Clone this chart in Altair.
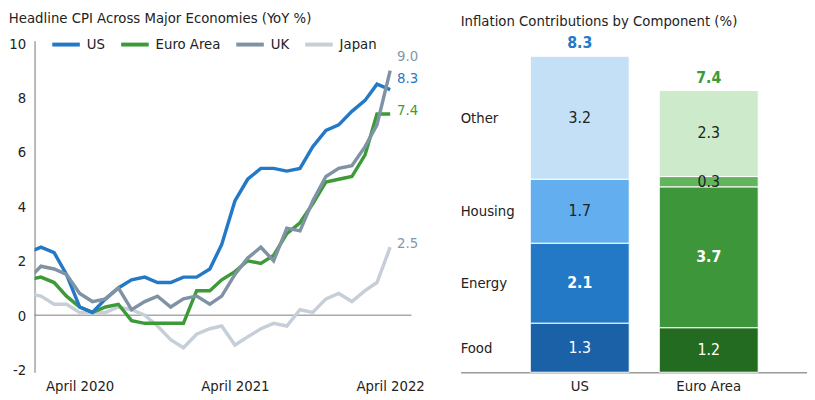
import altair as alt
import pandas as pd

FONT = "DejaVu Sans Condensed, Liberation Sans Narrow, DejaVu Sans, sans-serif"

# ---------------- data: headline CPI, YoY % (Dec 2019 .. Apr 2022) ----------------
months = [d.strftime("%Y-%m-%dT00:00:00") for d in pd.date_range("2019-12-01", periods=29, freq="MS")]
us_cpi = [2.3, 2.5, 2.3, 1.5, 0.3, 0.1, 0.6, 1.0, 1.3, 1.4, 1.2, 1.2, 1.4,
          1.4, 1.7, 2.6, 4.2, 5.0, 5.4, 5.4, 5.3, 5.4, 6.2, 6.8, 7.0,
          7.5, 7.9, 8.5, 8.3]
euro_cpi = [1.3, 1.4, 1.2, 0.7, 0.3, 0.1, 0.3, 0.4, -0.2, -0.3, -0.3, -0.3, -0.3,
            0.9, 0.9, 1.3, 1.6, 2.0, 1.9, 2.2, 3.0, 3.4, 4.1, 4.9, 5.0,
            5.1, 5.9, 7.4, 7.4]
uk_cpi = [1.3, 1.8, 1.7, 1.5, 0.8, 0.5, 0.6, 1.0, 0.2, 0.5, 0.7, 0.3, 0.6,
          0.7, 0.4, 0.7, 1.5, 2.1, 2.5, 2.0, 3.2, 3.1, 4.2, 5.1, 5.4,
          5.5, 6.2, 7.0, 9.0]
japan_cpi = [0.8, 0.7, 0.4, 0.4, 0.1, 0.1, 0.1, 0.3, 0.2, 0.0, -0.4, -0.9, -1.2,
             -0.7, -0.5, -0.4, -1.1, -0.8, -0.5, -0.3, -0.4, 0.2, 0.1, 0.6, 0.8,
             0.5, 0.9, 1.2, 2.5]
series_names = ["US", "Euro Area", "UK", "Japan"]
y_ticks = [-2, 0, 2, 4, 6, 8, 10]
tick_years = [2020, 2021, 2022]

# ---------------- data: contributions by component (%) ----------------
countries = ["US", "Euro Area"]
components = ["Food", "Energy", "Housing", "Other"]
us_contrib = [1.29, 2.10, 1.68, 3.23]
euro_contrib = [1.17, 3.70, 0.27, 2.26]

# ---------------- styles ----------------
line_colors = ["#2479c7", "#3d9a38", "#7f93a5", "#c6cfd8"]
end_label_colors = {"US": "#2479c7", "Euro Area": "#3d9a38", "UK": "#8497aa", "Japan": "#8497aa"}
end_label_dy = {"US": -12, "Euro Area": -4, "UK": -15, "Japan": -4}
draw_order = ["Japan", "Euro Area", "US", "UK"]
bar_colors = ["#1a61a8", "#2479c7", "#62aeef", "#c4e0f7",
              "#236b20", "#3e963a", "#63b55d", "#cdeacb"]
TXT = "#222222"

series_values = {"US": us_cpi, "Euro Area": euro_cpi, "UK": uk_cpi, "Japan": japan_cpi}
rows = []
for name in draw_order:
    for m, v in zip(months, series_values[name]):
        rows.append({"date": m, "series": name, "value": v})
lines_df = pd.DataFrame(rows)
last_df = pd.DataFrame({"date": [months[-1]] * 4,
                        "series": series_names,
                        "value": [series_values[s][-1] for s in series_names]})

x_scale = alt.Scale(domain=[alt.DateTime(year=2019, month=12, date=17),
                            alt.DateTime(year=2022, month=5, date=21)])
y_scale = alt.Scale(domain=[-2.1, 10.1], nice=False)
x_axis = alt.Axis(values=[alt.DateTime(year=y, month=4, date=1) for y in tick_years],
                  format="%B %Y", title=None, grid=False, ticks=False, domain=False,
                  labelPadding=7, labelFontSize=15, labelColor=TXT, labelFlush=False)
y_axis = alt.Axis(values=y_ticks, title=None, grid=False, ticks=False,
                  domainColor="#b8b8b8", domainWidth=2, labelFontSize=15, labelColor=TXT,
                  labelPadding=9,
                  labelExpr="datum.value < 0 ? '-' + abs(datum.value) : '' + datum.value")

zero_rule = alt.Chart(pd.DataFrame({"zero": [0]})).mark_rule(
    color="#7a7a7a", strokeWidth=1).encode(y=alt.Y("zero:Q", scale=y_scale, axis=y_axis))

lines = alt.Chart(lines_df).mark_line(strokeWidth=3.5, clip=True).encode(
    x=alt.X("date:T", scale=x_scale, axis=x_axis),
    y=alt.Y("value:Q", scale=y_scale, axis=y_axis),
    color=alt.Color("series:N", scale=alt.Scale(domain=series_names, range=line_colors),
                    legend=alt.Legend(orient="none", legendX=16, legendY=-12,
                                      direction="horizontal", title=None,
                                      symbolType="stroke", symbolStrokeWidth=4,
                                      symbolSize=784, labelFontSize=15, labelColor=TXT,
                                      columnPadding=8, labelOffset=5)),
)

end_labels = []
for s in series_names:
    end_labels.append(
        alt.Chart(last_df).transform_filter(alt.datum.series == s).mark_text(
            align="left", baseline="middle", dx=7, dy=end_label_dy[s], fontSize=15,
            color=end_label_colors[s]).encode(
            x=alt.X("date:T", scale=x_scale, axis=x_axis),
            y=alt.Y("value:Q", scale=y_scale, axis=y_axis),
            text=alt.Text("value:Q", format=".1f"))
    )

left = alt.layer(zero_rule, lines, *end_labels).properties(
    width=383, height=337,
    title=alt.Title("Headline CPI Across Major Economies (YoY %)", anchor="start",
                    frame="bounds", offset=3, fontSize=15, fontWeight="normal", color=TXT))

# ---------------- right chart ----------------
bar_rows = []
for c, vals in zip(countries, [us_contrib, euro_contrib]):
    for i, (comp, v) in enumerate(zip(components, vals)):
        bar_rows.append({"country": c, "component": comp, "order": i,
                         "value": v, "key": f"{c} {comp}"})
bar_df = pd.DataFrame(bar_rows)
keys = [f"{c} {comp}" for c in countries for comp in components]

x_bar = alt.X("country:N", sort=countries,
              scale=alt.Scale(paddingInner=0.233, paddingOuter=0.459, align=0.588),
              axis=alt.Axis(title=None, labelAngle=0, ticks=False, domainColor="#999999",
                            domainWidth=1.5, labelPadding=7, labelFontSize=15,
                            labelColor=TXT))
y_bar_scale = alt.Scale(domain=[0, 8.71], nice=False)

base = alt.Chart(bar_df).transform_stack(
    stack="value", groupby=["country"], as_=["v0", "v1"],
    sort=[alt.SortField("order", order="ascending")]
).transform_calculate(mid="(datum.v0 + datum.v1) / 2")

bars = base.mark_bar(stroke="white", strokeWidth=1).encode(
    x=x_bar,
    y=alt.Y("v0:Q", scale=y_bar_scale, axis=None),
    y2="v1:Q",
    color=alt.Color("key:N", scale=alt.Scale(domain=keys, range=bar_colors), legend=None))

seg_labels = base.transform_filter("datum.component != 'Energy'").mark_text(
    fontSize=16, baseline="middle").encode(
    x=x_bar,
    y=alt.Y("mid:Q", scale=y_bar_scale, axis=None),
    text=alt.Text("value:Q", format=".1f"),
    color=alt.condition("datum.component == 'Food'", alt.value("white"), alt.value(TXT)))

energy_labels = base.transform_filter("datum.component == 'Energy'").mark_text(
    fontSize=16, baseline="middle", fontWeight="bold", color="white").encode(
    x=x_bar,
    y=alt.Y("mid:Q", scale=y_bar_scale, axis=None),
    text=alt.Text("value:Q", format=".1f"))

totals = alt.Chart(bar_df).transform_aggregate(
    total="sum(value)", groupby=["country"]).mark_text(
    fontSize=16, fontWeight="bold", baseline="bottom", dy=-5).encode(
    x=x_bar,
    y=alt.Y("total:Q", scale=y_bar_scale, axis=None),
    text=alt.Text("total:Q", format=".1f"),
    color=alt.condition("datum.country == 'US'", alt.value("#2479c7"), alt.value("#3d9a38")))

cat_labels = base.transform_filter("datum.country == 'US'").mark_text(
    align="left", baseline="middle", fontSize=15, color=TXT).encode(
    x=alt.value(0),
    y=alt.Y("mid:Q", scale=y_bar_scale, axis=None),
    text="component:N")

right = alt.layer(bars, seg_labels, energy_labels, totals, cat_labels).properties(
    width=352, height=337,
    title=alt.Title("Inflation Contributions by Component (%)", anchor="start",
                    frame="bounds", offset=7, fontSize=15, fontWeight="normal", color=TXT))

chart = alt.hconcat(left, right, spacing=50, bounds="flush",
                    padding={"left": 0, "top": 0, "right": 0, "bottom": 0}
                    ).resolve_scale(color="independent").configure(font=FONT).configure_view(stroke=None)

chart.save("out.html", embed_options={"renderer": "svg", "actions": False})
